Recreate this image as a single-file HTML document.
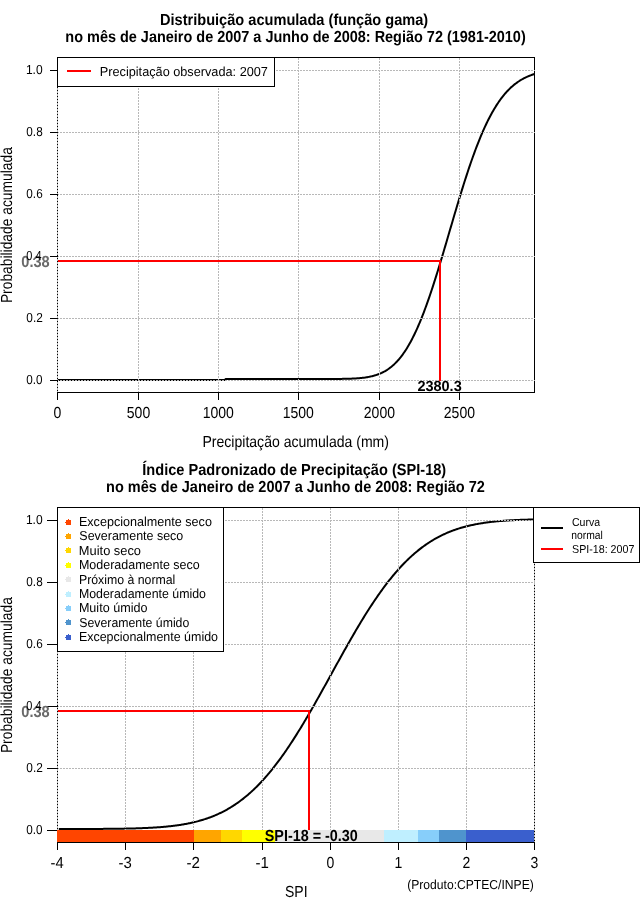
<!DOCTYPE html>
<html><head><meta charset="utf-8"><title>SPI</title>
<style>
html,body{margin:0;padding:0;background:#fff;}
body{width:640px;height:900px;overflow:hidden;}
svg{display:block;font-family:'Liberation Sans', sans-serif;will-change:transform;text-rendering:geometricPrecision;}
</style></head><body>
<svg width="640" height="900" viewBox="0 0 640 900">
<rect width="640" height="900" fill="#fff"/>
<text transform="translate(159.95,25) scale(0.9115,1)" font-size="16" font-weight="bold">Distribuição acumulada (função gama)</text>
<text transform="translate(65.36,42) scale(0.9034,1)" font-size="16" font-weight="bold">no mês de Janeiro de 2007 a Junho de 2008: Região 72 (1981-2010)</text>
<rect x="57.5" y="57.5" width="477" height="335" fill="none" stroke="#000" stroke-width="1" shape-rendering="crispEdges"/>
<path d="M57.50,380.00 L58.30,380.00 L59.09,380.00 L59.89,380.00 L60.69,380.00 L61.48,380.00 L62.28,380.00 L63.07,380.00 L63.87,380.00 L64.67,380.00 L65.46,380.00 L66.26,380.00 L67.06,380.00 L67.85,380.00 L68.65,380.00 L69.44,380.00 L70.24,380.00 L71.04,380.00 L71.83,380.00 L72.63,380.00 L73.43,380.00 L74.22,380.00 L75.02,380.00 L75.82,380.00 L76.61,380.00 L77.41,380.00 L78.20,380.00 L79.00,380.00 L79.80,380.00 L80.59,380.00 L81.39,380.00 L82.19,380.00 L82.98,380.00 L83.78,380.00 L84.58,380.00 L85.37,380.00 L86.17,380.00 L86.96,380.00 L87.76,380.00 L88.56,380.00 L89.35,380.00 L90.15,380.00 L90.95,380.00 L91.74,380.00 L92.54,380.00 L93.33,380.00 L94.13,380.00 L94.93,380.00 L95.72,380.00 L96.52,380.00 L97.32,380.00 L98.11,380.00 L98.91,380.00 L99.71,380.00 L100.50,380.00 L101.30,380.00 L102.09,380.00 L102.89,380.00 L103.69,380.00 L104.48,380.00 L105.28,380.00 L106.08,380.00 L106.87,380.00 L107.67,380.00 L108.46,380.00 L109.26,380.00 L110.06,380.00 L110.85,380.00 L111.65,380.00 L112.45,380.00 L113.24,380.00 L114.04,380.00 L114.84,380.00 L115.63,380.00 L116.43,380.00 L117.22,380.00 L118.02,380.00 L118.82,380.00 L119.61,380.00 L120.41,380.00 L121.21,380.00 L122.00,380.00 L122.80,380.00 L123.60,380.00 L124.39,380.00 L125.19,380.00 L125.98,380.00 L126.78,380.00 L127.58,380.00 L128.37,380.00 L129.17,380.00 L129.97,380.00 L130.76,380.00 L131.56,380.00 L132.35,380.00 L133.15,380.00 L133.95,380.00 L134.74,380.00 L135.54,380.00 L136.34,380.00 L137.13,380.00 L137.93,380.00 L138.73,380.00 L139.52,380.00 L140.32,380.00 L141.11,380.00 L141.91,380.00 L142.71,380.00 L143.50,380.00 L144.30,380.00 L145.10,380.00 L145.89,380.00 L146.69,380.00 L147.48,380.00 L148.28,380.00 L149.08,380.00 L149.87,380.00 L150.67,380.00 L151.47,380.00 L152.26,380.00 L153.06,380.00 L153.86,380.00 L154.65,380.00 L155.45,380.00 L156.24,380.00 L157.04,380.00 L157.84,380.00 L158.63,380.00 L159.43,380.00 L160.23,380.00 L161.02,380.00 L161.82,380.00 L162.62,380.00 L163.41,380.00 L164.21,380.00 L165.00,380.00 L165.80,380.00 L166.60,380.00 L167.39,380.00 L168.19,380.00 L168.99,380.00 L169.78,380.00 L170.58,380.00 L171.37,380.00 L172.17,380.00 L172.97,380.00 L173.76,380.00 L174.56,380.00 L175.36,380.00 L176.15,380.00 L176.95,380.00 L177.75,380.00 L178.54,380.00 L179.34,380.00 L180.13,380.00 L180.93,380.00 L181.73,380.00 L182.52,380.00 L183.32,380.00 L184.12,380.00 L184.91,380.00 L185.71,380.00 L186.51,380.00 L187.30,380.00 L188.10,380.00 L188.89,380.00 L189.69,380.00 L190.49,380.00 L191.28,380.00 L192.08,380.00 L192.88,380.00 L193.67,380.00 L194.47,380.00 L195.26,380.00 L196.06,380.00 L196.86,380.00 L197.65,380.00 L198.45,380.00 L199.25,380.00 L200.04,380.00 L200.84,380.00 L201.64,380.00 L202.43,380.00 L203.23,380.00 L204.02,380.00 L204.82,380.00 L205.62,380.00 L206.41,380.00 L207.21,380.00 L208.01,380.00 L208.80,380.00 L209.60,380.00 L210.39,380.00 L211.19,380.00 L211.99,380.00 L212.78,380.00 L213.58,380.00 L214.38,380.00 L215.17,380.00 L215.97,380.00 L216.77,380.00 L217.56,380.00 L218.36,380.00 L219.15,380.00 L219.95,380.00 L220.75,380.00 L221.54,380.00 L222.34,380.00 L223.14,380.00 L223.93,380.00 L224.73,380.00 L225.53,379.00 L226.32,379.00 L227.12,379.00 L227.91,379.00 L228.71,379.00 L229.51,379.00 L230.30,379.00 L231.10,379.00 L231.90,379.00 L232.69,379.00 L233.49,379.00 L234.28,379.00 L235.08,379.00 L235.88,379.00 L236.67,379.00 L237.47,379.00 L238.27,379.00 L239.06,379.00 L239.86,379.00 L240.66,379.00 L241.45,379.00 L242.25,379.00 L243.04,379.00 L243.84,379.00 L244.64,379.00 L245.43,379.00 L246.23,379.00 L247.03,379.00 L247.82,379.00 L248.62,379.00 L249.41,379.00 L250.21,379.00 L251.01,379.00 L251.80,379.00 L252.60,379.00 L253.40,379.00 L254.19,379.00 L254.99,379.00 L255.79,379.00 L256.58,379.00 L257.38,379.00 L258.17,379.00 L258.97,379.00 L259.77,379.00 L260.56,379.00 L261.36,379.00 L262.16,379.00 L262.95,379.00 L263.75,379.00 L264.55,379.00 L265.34,379.00 L266.14,379.00 L266.93,379.00 L267.73,379.00 L268.53,379.00 L269.32,379.00 L270.12,379.00 L270.92,379.00 L271.71,379.00 L272.51,379.00 L273.30,379.00 L274.10,379.00 L274.90,379.00 L275.69,379.00 L276.49,379.00 L277.29,379.00 L278.08,379.00 L278.88,379.00 L279.68,379.00 L280.47,379.00 L281.27,379.00 L282.06,379.00 L282.86,379.00 L283.66,379.00 L284.45,379.00 L285.25,379.00 L286.05,379.00 L286.84,379.00 L287.64,379.00 L288.43,379.00 L289.23,379.00 L290.03,379.00 L290.82,379.00 L291.62,379.00 L292.42,379.00 L293.21,379.00 L294.01,379.00 L294.81,379.00 L295.60,379.00 L296.40,379.00 L297.19,379.00 L297.99,379.00 L298.79,379.00 L299.58,379.00 L300.38,379.00 L301.18,379.00 L301.97,379.00 L302.77,379.00 L303.57,379.00 L304.36,379.00 L305.16,379.00 L305.95,379.00 L306.75,379.00 L307.55,379.00 L308.34,379.00 L309.14,379.00 L309.94,379.00 L310.73,379.00 L311.53,379.00 L312.32,379.00 L313.12,379.00 L313.92,379.00 L314.71,379.00 L315.51,379.00 L316.31,379.00 L317.10,379.00 L317.90,379.00 L318.70,379.00 L319.49,378.99 L320.29,378.99 L321.08,378.99 L321.88,378.99 L322.68,378.99 L323.47,378.99 L324.27,378.99 L325.07,378.99 L325.86,378.99 L326.66,378.98 L327.45,378.98 L328.25,378.98 L329.05,378.98 L329.84,378.98 L330.64,378.97 L331.44,378.97 L332.23,378.97 L333.03,378.96 L333.83,378.96 L334.62,378.95 L335.42,378.95 L336.21,378.94 L337.01,378.94 L337.81,378.93 L338.60,378.92 L339.40,378.91 L340.20,378.90 L340.99,378.89 L341.79,378.88 L342.59,378.87 L343.38,378.86 L344.18,378.84 L344.97,378.83 L345.77,378.81 L346.57,378.79 L347.36,378.77 L348.16,378.75 L348.96,378.72 L349.75,378.70 L350.55,378.67 L351.34,378.64 L352.14,378.60 L352.94,378.57 L353.73,378.53 L354.53,378.49 L355.33,378.44 L356.12,378.39 L356.92,378.34 L357.72,378.28 L358.51,378.22 L359.31,378.15 L360.10,378.08 L360.90,378.01 L361.70,377.93 L362.49,377.84 L363.29,377.74 L364.09,377.64 L364.88,377.54 L365.68,377.42 L366.47,377.30 L367.27,377.17 L368.07,377.03 L368.86,376.89 L369.66,376.73 L370.46,376.56 L371.25,376.39 L372.05,376.20 L372.85,376.00 L373.64,375.79 L374.44,375.57 L375.23,375.33 L376.03,375.08 L376.83,374.82 L377.62,374.54 L378.42,374.24 L379.22,373.93 L380.01,373.61 L380.81,373.26 L381.61,372.90 L382.40,372.52 L383.20,372.12 L383.99,371.71 L384.79,371.27 L385.59,370.81 L386.38,370.32 L387.18,369.82 L387.98,369.29 L388.77,368.74 L389.57,368.16 L390.36,367.56 L391.16,366.93 L391.96,366.28 L392.75,365.59 L393.55,364.88 L394.35,364.14 L395.14,363.38 L395.94,362.58 L396.74,361.75 L397.53,360.89 L398.33,359.99 L399.12,359.07 L399.92,358.11 L400.72,357.12 L401.51,356.09 L402.31,355.03 L403.11,353.94 L403.90,352.80 L404.70,351.64 L405.49,350.43 L406.29,349.19 L407.09,347.91 L407.88,346.60 L408.68,345.25 L409.48,343.85 L410.27,342.43 L411.07,340.96 L411.87,339.45 L412.66,337.91 L413.46,336.32 L414.25,334.70 L415.05,333.04 L415.85,331.34 L416.64,329.60 L417.44,327.83 L418.24,326.01 L419.03,324.16 L419.83,322.27 L420.63,320.34 L421.42,318.38 L422.22,316.38 L423.01,314.34 L423.81,312.27 L424.61,310.16 L425.40,308.02 L426.20,305.85 L427.00,303.64 L427.79,301.40 L428.59,299.13 L429.38,296.83 L430.18,294.49 L430.98,292.13 L431.77,289.74 L432.57,287.33 L433.37,284.89 L434.16,282.42 L434.96,279.93 L435.76,277.41 L436.55,274.88 L437.35,272.32 L438.14,269.74 L438.94,267.15 L439.74,264.53 L440.53,261.91 L441.33,259.26 L442.13,256.61 L442.92,253.94 L443.72,251.26 L444.52,248.57 L445.31,245.87 L446.11,243.17 L446.90,240.46 L447.70,237.75 L448.50,235.03 L449.29,232.31 L450.09,229.59 L450.89,226.87 L451.68,224.16 L452.48,221.44 L453.27,218.74 L454.07,216.04 L454.87,213.34 L455.66,210.66 L456.46,207.98 L457.26,205.32 L458.05,202.67 L458.85,200.03 L459.65,197.40 L460.44,194.80 L461.24,192.20 L462.03,189.63 L462.83,187.08 L463.63,184.54 L464.42,182.03 L465.22,179.54 L466.02,177.07 L466.81,174.62 L467.61,172.20 L468.40,169.81 L469.20,167.44 L470.00,165.09 L470.79,162.78 L471.59,160.49 L472.39,158.24 L473.18,156.01 L473.98,153.81 L474.78,151.64 L475.57,149.51 L476.37,147.40 L477.16,145.33 L477.96,143.29 L478.76,141.28 L479.55,139.30 L480.35,137.36 L481.15,135.45 L481.94,133.58 L482.74,131.74 L483.54,129.93 L484.33,128.16 L485.13,126.42 L485.92,124.71 L486.72,123.04 L487.52,121.41 L488.31,119.81 L489.11,118.24 L489.91,116.70 L490.70,115.20 L491.50,113.74 L492.29,112.30 L493.09,110.90 L493.89,109.54 L494.68,108.20 L495.48,106.90 L496.28,105.63 L497.07,104.39 L497.87,103.18 L498.67,102.01 L499.46,100.87 L500.26,99.75 L501.05,98.67 L501.85,97.61 L502.65,96.59 L503.44,95.59 L504.24,94.62 L505.04,93.68 L505.83,92.77 L506.63,91.88 L507.42,91.02 L508.22,90.19 L509.02,89.38 L509.81,88.60 L510.61,87.84 L511.41,87.11 L512.20,86.40 L513.00,85.71 L513.80,85.04 L514.59,84.40 L515.39,83.78 L516.18,83.18 L516.98,82.59 L517.78,82.03 L518.57,81.49 L519.37,80.97 L520.17,80.47 L520.96,79.98 L521.76,79.51 L522.56,79.06 L523.35,78.63 L524.15,78.21 L524.94,77.81 L525.74,77.42 L526.54,77.05 L527.33,76.69 L528.13,76.34 L528.93,76.01 L529.72,75.69 L530.52,75.39 L531.31,75.09 L532.11,74.81 L532.91,74.54 L533.70,74.28 L534.50,74.03" fill="none" stroke="#000" stroke-width="2" stroke-linejoin="round"/>
<g stroke="#b8b8b8" stroke-width="1" stroke-dasharray="2 1" shape-rendering="crispEdges">
<line x1="57.5" y1="57.5" x2="57.5" y2="392.5" />
<line x1="138.5" y1="57.5" x2="138.5" y2="392.5" />
<line x1="218.5" y1="57.5" x2="218.5" y2="392.5" />
<line x1="298.5" y1="57.5" x2="298.5" y2="392.5" />
<line x1="379.5" y1="57.5" x2="379.5" y2="392.5" />
<line x1="459.5" y1="57.5" x2="459.5" y2="392.5" />
<line x1="57" y1="380.5" x2="534.5" y2="380.5" />
<line x1="57" y1="318.5" x2="534.5" y2="318.5" />
<line x1="57" y1="256.5" x2="534.5" y2="256.5" />
<line x1="57" y1="194.5" x2="534.5" y2="194.5" />
<line x1="57" y1="132.5" x2="534.5" y2="132.5" />
<line x1="57" y1="70.5" x2="534.5" y2="70.5" />
</g>
<g stroke="#000" stroke-width="1" shape-rendering="crispEdges">
<line x1="57.5" y1="392" x2="57.5" y2="400" />
<line x1="138.5" y1="392" x2="138.5" y2="400" />
<line x1="218.5" y1="392" x2="218.5" y2="400" />
<line x1="298.5" y1="392" x2="298.5" y2="400" />
<line x1="379.5" y1="392" x2="379.5" y2="400" />
<line x1="459.5" y1="392" x2="459.5" y2="400" />
<line x1="50" y1="380.5" x2="58" y2="380.5" />
<line x1="50" y1="318.5" x2="58" y2="318.5" />
<line x1="50" y1="256.5" x2="58" y2="256.5" />
<line x1="50" y1="194.5" x2="58" y2="194.5" />
<line x1="50" y1="132.5" x2="58" y2="132.5" />
<line x1="50" y1="70.5" x2="58" y2="70.5" />
</g>
<text transform="translate(21.32,267) scale(0.9100,1)" font-size="16" font-weight="bold" fill="#6a6a6a">0.38</text>
<text transform="translate(53.58,418) scale(0.8750,1)" font-size="16">0</text>
<text transform="translate(126.81,418) scale(0.8750,1)" font-size="16">500</text>
<text transform="translate(202.64,418) scale(0.8750,1)" font-size="16">1000</text>
<text transform="translate(282.64,418) scale(0.8750,1)" font-size="16">1500</text>
<text transform="translate(363.82,418) scale(0.8750,1)" font-size="16">2000</text>
<text transform="translate(443.82,418) scale(0.8750,1)" font-size="16">2500</text>
<text transform="translate(26.33,384) scale(0.9008,1)" font-size="13">0.0</text>
<text transform="translate(26.33,322) scale(0.9112,1)" font-size="13">0.2</text>
<text transform="translate(26.36,260) scale(0.8450,1)" font-size="13">0.4</text>
<text transform="translate(26.33,198) scale(0.9043,1)" font-size="13">0.6</text>
<text transform="translate(26.33,136) scale(0.9043,1)" font-size="13">0.8</text>
<text transform="translate(25.90,74) scale(0.9255,1)" font-size="13">1.0</text>
<g stroke="#ff0000" stroke-width="2" shape-rendering="crispEdges">
<line x1="58" y1="261" x2="441" y2="261" />
<line x1="440" y1="260" x2="440" y2="381" />
</g>
<text transform="translate(417.39,391) scale(0.9863,1)" font-size="14.7" font-weight="bold">2380.3</text>
<rect x="57.5" y="57.5" width="217" height="29" fill="#fff" stroke="#000" stroke-width="1" shape-rendering="crispEdges"/>
<line x1="67" y1="71" x2="91" y2="71" stroke="#ff0000" stroke-width="2" shape-rendering="crispEdges"/>
<text transform="translate(99.78,76) scale(0.9774,1)" font-size="13">Precipitação observada: 2007</text>
<text transform="translate(202.48,447) scale(0.8776,1)" font-size="16">Precipitação acumulada (mm)</text>
<text transform="translate(11.7,303.11) rotate(-90) scale(0.8635,1)" font-size="16">Probabilidade acumulada</text>
<text transform="translate(142.27,475) scale(0.9116,1)" font-size="16" font-weight="bold">Índice Padronizado de Precipitação (SPI-18)</text>
<text transform="translate(106.06,492) scale(0.9063,1)" font-size="16" font-weight="bold">no mês de Janeiro de 2007 a Junho de 2008: Região 72</text>
<rect x="57.5" y="507.5" width="477" height="335" fill="none" stroke="#000" stroke-width="1" shape-rendering="crispEdges"/>
<path d="M58.80,828.99 L59.76,828.99 L60.71,828.99 L61.67,828.99 L62.62,828.99 L63.58,828.99 L64.54,828.99 L65.49,828.99 L66.45,828.98 L67.40,828.98 L68.36,828.98 L69.32,828.98 L70.27,828.98 L71.23,828.98 L72.18,828.98 L73.14,828.98 L74.09,828.98 L75.05,828.97 L76.01,828.97 L76.96,828.97 L77.92,828.97 L78.87,828.97 L79.83,828.97 L80.79,828.96 L81.74,828.96 L82.70,828.96 L83.65,828.96 L84.61,828.95 L85.57,828.95 L86.52,828.95 L87.48,828.95 L88.43,828.94 L89.39,828.94 L90.35,828.94 L91.30,828.93 L92.26,828.93 L93.21,828.93 L94.17,828.92 L95.12,828.92 L96.08,828.91 L97.04,828.91 L97.99,828.90 L98.95,828.90 L99.90,828.89 L100.86,828.89 L101.82,828.88 L102.77,828.88 L103.73,828.87 L104.68,828.86 L105.64,828.86 L106.60,828.85 L107.55,828.84 L108.51,828.83 L109.46,828.83 L110.42,828.82 L111.38,828.81 L112.33,828.80 L113.29,828.79 L114.24,828.78 L115.20,828.77 L116.15,828.75 L117.11,828.74 L118.07,828.73 L119.02,828.72 L119.98,828.70 L120.93,828.69 L121.89,828.67 L122.85,828.66 L123.80,828.64 L124.76,828.62 L125.71,828.61 L126.67,828.59 L127.63,828.57 L128.58,828.55 L129.54,828.53 L130.49,828.50 L131.45,828.48 L132.41,828.46 L133.36,828.43 L134.32,828.41 L135.27,828.38 L136.23,828.35 L137.18,828.32 L138.14,828.29 L139.10,828.26 L140.05,828.23 L141.01,828.19 L141.96,828.16 L142.92,828.12 L143.88,828.08 L144.83,828.04 L145.79,828.00 L146.74,827.96 L147.70,827.91 L148.66,827.86 L149.61,827.81 L150.57,827.76 L151.52,827.71 L152.48,827.66 L153.44,827.60 L154.39,827.54 L155.35,827.48 L156.30,827.42 L157.26,827.35 L158.21,827.29 L159.17,827.22 L160.13,827.14 L161.08,827.07 L162.04,826.99 L162.99,826.91 L163.95,826.83 L164.91,826.74 L165.86,826.65 L166.82,826.56 L167.77,826.46 L168.73,826.37 L169.69,826.26 L170.64,826.16 L171.60,826.05 L172.55,825.94 L173.51,825.82 L174.47,825.70 L175.42,825.57 L176.38,825.45 L177.33,825.31 L178.29,825.18 L179.24,825.03 L180.20,824.89 L181.16,824.74 L182.11,824.58 L183.07,824.42 L184.02,824.26 L184.98,824.09 L185.94,823.91 L186.89,823.73 L187.85,823.55 L188.80,823.35 L189.76,823.16 L190.72,822.95 L191.67,822.75 L192.63,822.53 L193.58,822.31 L194.54,822.08 L195.50,821.85 L196.45,821.61 L197.41,821.36 L198.36,821.10 L199.32,820.84 L200.27,820.57 L201.23,820.30 L202.19,820.01 L203.14,819.72 L204.10,819.42 L205.05,819.11 L206.01,818.80 L206.97,818.48 L207.92,818.14 L208.88,817.80 L209.83,817.45 L210.79,817.10 L211.75,816.73 L212.70,816.35 L213.66,815.97 L214.61,815.57 L215.57,815.17 L216.53,814.75 L217.48,814.33 L218.44,813.89 L219.39,813.45 L220.35,812.99 L221.31,812.53 L222.26,812.05 L223.22,811.57 L224.17,811.07 L225.13,810.56 L226.08,810.04 L227.04,809.51 L228.00,808.96 L228.95,808.41 L229.91,807.84 L230.86,807.26 L231.82,806.67 L232.78,806.07 L233.73,805.46 L234.69,804.83 L235.64,804.19 L236.60,803.53 L237.56,802.87 L238.51,802.19 L239.47,801.50 L240.42,800.79 L241.38,800.07 L242.34,799.34 L243.29,798.60 L244.25,797.84 L245.20,797.06 L246.16,796.28 L247.11,795.48 L248.07,794.66 L249.03,793.83 L249.98,792.99 L250.94,792.13 L251.89,791.26 L252.85,790.37 L253.81,789.47 L254.76,788.56 L255.72,787.63 L256.67,786.69 L257.63,785.73 L258.59,784.75 L259.54,783.77 L260.50,782.76 L261.45,781.75 L262.41,780.71 L263.37,779.67 L264.32,778.60 L265.28,777.53 L266.23,776.44 L267.19,775.33 L268.14,774.21 L269.10,773.07 L270.06,771.92 L271.01,770.76 L271.97,769.58 L272.92,768.39 L273.88,767.18 L274.84,765.96 L275.79,764.72 L276.75,763.47 L277.70,762.20 L278.66,760.92 L279.62,759.63 L280.57,758.32 L281.53,757.00 L282.48,755.67 L283.44,754.32 L284.40,752.96 L285.35,751.58 L286.31,750.20 L287.26,748.80 L288.22,747.38 L289.17,745.96 L290.13,744.52 L291.09,743.07 L292.04,741.61 L293.00,740.13 L293.95,738.64 L294.91,737.15 L295.87,735.64 L296.82,734.12 L297.78,732.59 L298.73,731.04 L299.69,729.49 L300.65,727.93 L301.60,726.36 L302.56,724.78 L303.51,723.19 L304.47,721.59 L305.43,719.98 L306.38,718.36 L307.34,716.73 L308.29,715.10 L309.25,713.46 L310.20,711.81 L311.16,710.15 L312.12,708.49 L313.07,706.82 L314.03,705.14 L314.98,703.46 L315.94,701.77 L316.90,700.07 L317.85,698.38 L318.81,696.67 L319.76,694.96 L320.72,693.25 L321.68,691.54 L322.63,689.82 L323.59,688.10 L324.54,686.37 L325.50,684.64 L326.46,682.91 L327.41,681.18 L328.37,679.45 L329.32,677.72 L330.28,675.98 L331.23,674.25 L332.19,672.51 L333.15,670.78 L334.10,669.04 L335.06,667.31 L336.01,665.58 L336.97,663.85 L337.93,662.12 L338.88,660.40 L339.84,658.67 L340.79,656.95 L341.75,655.24 L342.71,653.52 L343.66,651.81 L344.62,650.11 L345.57,648.41 L346.53,646.71 L347.49,645.03 L348.44,643.34 L349.40,641.66 L350.35,639.99 L351.31,638.33 L352.26,636.67 L353.22,635.01 L354.18,633.37 L355.13,631.73 L356.09,630.11 L357.04,628.49 L358.00,626.87 L358.96,625.27 L359.91,623.68 L360.87,622.09 L361.82,620.52 L362.78,618.95 L363.74,617.40 L364.69,615.85 L365.65,614.32 L366.60,612.80 L367.56,611.28 L368.52,609.78 L369.47,608.29 L370.43,606.81 L371.38,605.35 L372.34,603.89 L373.29,602.45 L374.25,601.02 L375.21,599.61 L376.16,598.20 L377.12,596.81 L378.07,595.43 L379.03,594.07 L379.99,592.72 L380.94,591.38 L381.90,590.05 L382.85,588.74 L383.81,587.44 L384.77,586.16 L385.72,584.89 L386.68,583.64 L387.63,582.40 L388.59,581.17 L389.55,579.96 L390.50,578.76 L391.46,577.58 L392.41,576.41 L393.37,575.25 L394.33,574.11 L395.28,572.99 L396.24,571.88 L397.19,570.78 L398.15,569.70 L399.10,568.64 L400.06,567.58 L401.02,566.55 L401.97,565.53 L402.93,564.52 L403.88,563.53 L404.84,562.55 L405.80,561.59 L406.75,560.64 L407.71,559.70 L408.66,558.79 L409.62,557.88 L410.58,556.99 L411.53,556.12 L412.49,555.25 L413.44,554.41 L414.40,553.57 L415.36,552.76 L416.31,551.95 L417.27,551.16 L418.22,550.38 L419.18,549.62 L420.13,548.87 L421.09,548.13 L422.05,547.41 L423.00,546.70 L423.96,546.01 L424.91,545.32 L425.87,544.65 L426.83,544.00 L427.78,543.35 L428.74,542.72 L429.69,542.10 L430.65,541.50 L431.61,540.90 L432.56,540.32 L433.52,539.75 L434.47,539.19 L435.43,538.65 L436.39,538.11 L437.34,537.59 L438.30,537.08 L439.25,536.57 L440.21,536.08 L441.16,535.61 L442.12,535.14 L443.08,534.68 L444.03,534.23 L444.99,533.79 L445.94,533.37 L446.90,532.95 L447.86,532.54 L448.81,532.15 L449.77,531.76 L450.72,531.38 L451.68,531.01 L452.64,530.65 L453.59,530.30 L454.55,529.95 L455.50,529.62 L456.46,529.29 L457.42,528.98 L458.37,528.67 L459.33,528.36 L460.28,528.07 L461.24,527.78 L462.19,527.51 L463.15,527.24 L464.11,526.97 L465.06,526.71 L466.02,526.46 L466.97,526.22 L467.93,525.99 L468.89,525.76 L469.84,525.53 L470.80,525.32 L471.75,525.10 L472.71,524.90 L473.67,524.70 L474.62,524.51 L475.58,524.32 L476.53,524.14 L477.49,523.96 L478.45,523.79 L479.40,523.62 L480.36,523.46 L481.31,523.31 L482.27,523.15 L483.22,523.01 L484.18,522.86 L485.14,522.73 L486.09,522.59 L487.05,522.46 L488.00,522.34 L488.96,522.22 L489.92,522.10 L490.87,521.98 L491.83,521.87 L492.78,521.77 L493.74,521.66 L494.70,521.56 L495.65,521.47 L496.61,521.37 L497.56,521.28 L498.52,521.20 L499.48,521.11 L500.43,521.03 L501.39,520.95 L502.34,520.88 L503.30,520.80 L504.25,520.73 L505.21,520.66 L506.17,520.60 L507.12,520.54 L508.08,520.47 L509.03,520.41 L509.99,520.36 L510.95,520.30 L511.90,520.25 L512.86,520.20 L513.81,520.15 L514.77,520.10 L515.73,520.06 L516.68,520.01 L517.64,519.97 L518.59,519.93 L519.55,519.89 L520.51,519.85 L521.46,519.82 L522.42,519.78 L523.37,519.75 L524.33,519.72 L525.28,519.69 L526.24,519.66 L527.20,519.63 L528.15,519.60 L529.11,519.58 L530.06,519.55 L531.02,519.53 L531.98,519.50 L532.93,519.48 L533.89,519.46 L534.84,519.44 L535.80,519.42" fill="none" stroke="#000" stroke-width="2" stroke-linejoin="round"/>
<g stroke="#b8b8b8" stroke-width="1" stroke-dasharray="2 1" shape-rendering="crispEdges">
<line x1="57.5" y1="507.5" x2="57.5" y2="842.5" />
<line x1="125.5" y1="507.5" x2="125.5" y2="842.5" />
<line x1="193.5" y1="507.5" x2="193.5" y2="842.5" />
<line x1="262.5" y1="507.5" x2="262.5" y2="842.5" />
<line x1="330.5" y1="507.5" x2="330.5" y2="842.5" />
<line x1="398.5" y1="507.5" x2="398.5" y2="842.5" />
<line x1="466.5" y1="507.5" x2="466.5" y2="842.5" />
<line x1="534.5" y1="507.5" x2="534.5" y2="842.5" />
<line x1="57" y1="830.5" x2="534.5" y2="830.5" />
<line x1="57" y1="768.5" x2="534.5" y2="768.5" />
<line x1="57" y1="706.5" x2="534.5" y2="706.5" />
<line x1="57" y1="644.5" x2="534.5" y2="644.5" />
<line x1="57" y1="582.5" x2="534.5" y2="582.5" />
<line x1="57" y1="520.5" x2="534.5" y2="520.5" />
</g>
<g stroke="#000" stroke-width="1" shape-rendering="crispEdges">
<line x1="57.5" y1="842" x2="57.5" y2="850" />
<line x1="125.5" y1="842" x2="125.5" y2="850" />
<line x1="193.5" y1="842" x2="193.5" y2="850" />
<line x1="262.5" y1="842" x2="262.5" y2="850" />
<line x1="330.5" y1="842" x2="330.5" y2="850" />
<line x1="398.5" y1="842" x2="398.5" y2="850" />
<line x1="466.5" y1="842" x2="466.5" y2="850" />
<line x1="534.5" y1="842" x2="534.5" y2="850" />
<line x1="47" y1="830.5" x2="58" y2="830.5" />
<line x1="47" y1="768.5" x2="58" y2="768.5" />
<line x1="47" y1="706.5" x2="58" y2="706.5" />
<line x1="47" y1="644.5" x2="58" y2="644.5" />
<line x1="47" y1="582.5" x2="58" y2="582.5" />
<line x1="47" y1="520.5" x2="58" y2="520.5" />
</g>
<text transform="translate(21.32,717) scale(0.9100,1)" font-size="16" font-weight="bold" fill="#6a6a6a">0.38</text>
<text transform="translate(50.59,868) scale(0.9202,1)" font-size="16">-4</text>
<text transform="translate(118.58,868) scale(0.9317,1)" font-size="16">-3</text>
<text transform="translate(186.57,868) scale(0.9434,1)" font-size="16">-2</text>
<text transform="translate(255.57,868) scale(0.9375,1)" font-size="16">-1</text>
<text transform="translate(326.58,868) scale(0.8750,1)" font-size="16">0</text>
<text transform="translate(394.40,868) scale(0.8750,1)" font-size="16">1</text>
<text transform="translate(462.62,868) scale(0.8750,1)" font-size="16">2</text>
<text transform="translate(530.61,868) scale(0.8750,1)" font-size="16">3</text>
<text transform="translate(26.33,834) scale(0.9008,1)" font-size="13">0.0</text>
<text transform="translate(26.33,772) scale(0.9112,1)" font-size="13">0.2</text>
<text transform="translate(26.36,710) scale(0.8450,1)" font-size="13">0.4</text>
<text transform="translate(26.33,648) scale(0.9043,1)" font-size="13">0.6</text>
<text transform="translate(26.33,586) scale(0.9043,1)" font-size="13">0.8</text>
<text transform="translate(25.90,524) scale(0.9255,1)" font-size="13">1.0</text>
<g shape-rendering="crispEdges">
<rect x="57" y="830" width="137" height="12" fill="#ff4500"/>
<rect x="194" y="830" width="27" height="12" fill="#ffa500"/>
<rect x="221" y="830" width="21" height="12" fill="#ffd700"/>
<rect x="242" y="830" width="33" height="12" fill="#ffff00"/>
<rect x="275" y="830" width="109" height="12" fill="#e8e8e8"/>
<rect x="384" y="830" width="34" height="12" fill="#bfefff"/>
<rect x="418" y="830" width="21" height="12" fill="#87cefa"/>
<rect x="439" y="830" width="27" height="12" fill="#4f94cd"/>
<rect x="466" y="830" width="68" height="12" fill="#3a5fcd"/>
</g>
<line x1="57.5" y1="842.5" x2="534.5" y2="842.5" stroke="#000" stroke-width="1" shape-rendering="crispEdges"/>
<g stroke="#ff0000" stroke-width="2" shape-rendering="crispEdges">
<line x1="58" y1="711" x2="310" y2="711" />
<line x1="309" y1="710" x2="309" y2="830" />
</g>
<text transform="translate(264.77,841) scale(0.8977,1)" font-size="16" font-weight="bold">SPI-18 = -0.30</text>
<rect x="57.5" y="507.5" width="166" height="144" fill="#fff" stroke="#000" stroke-width="1" shape-rendering="crispEdges"/>
<path d="M66,520h2v-1h1v1h2v5h-5v-2h-1v-1h1z" fill="#ff4500" shape-rendering="crispEdges"/>
<text transform="translate(78.89,526) scale(0.9689,1)" font-size="13">Excepcionalmente seco</text>
<path d="M66,534h2v-1h1v1h2v5h-5v-2h-1v-1h1z" fill="#ffa500" shape-rendering="crispEdges"/>
<text transform="translate(79.34,540) scale(0.9585,1)" font-size="13">Severamente seco</text>
<path d="M66,548h2v-1h1v1h2v5h-5v-2h-1v-1h1z" fill="#ffd700" shape-rendering="crispEdges"/>
<text transform="translate(78.87,554.5) scale(0.9887,1)" font-size="13">Muito seco</text>
<path d="M66,563h2v-1h1v1h2v5h-5v-2h-1v-1h1z" fill="#ffff00" shape-rendering="crispEdges"/>
<text transform="translate(78.90,569) scale(0.9609,1)" font-size="13">Moderadamente seco</text>
<path d="M66,577h2v-1h1v1h2v5h-5v-2h-1v-1h1z" fill="#e8e8e8" shape-rendering="crispEdges"/>
<text transform="translate(78.92,583.5) scale(0.9463,1)" font-size="13">Próximo à normal</text>
<path d="M66,592h2v-1h1v1h2v5h-5v-2h-1v-1h1z" fill="#bfefff" shape-rendering="crispEdges"/>
<text transform="translate(78.91,598) scale(0.9505,1)" font-size="13">Moderadamente úmido</text>
<path d="M66,606h2v-1h1v1h2v5h-5v-2h-1v-1h1z" fill="#87cefa" shape-rendering="crispEdges"/>
<text transform="translate(78.89,612) scale(0.9679,1)" font-size="13">Muito úmido</text>
<path d="M66,620h2v-1h1v1h2v5h-5v-2h-1v-1h1z" fill="#4f94cd" shape-rendering="crispEdges"/>
<text transform="translate(79.35,627) scale(0.9449,1)" font-size="13">Severamente úmido</text>
<path d="M66,635h2v-1h1v1h2v5h-5v-2h-1v-1h1z" fill="#3a5fcd" shape-rendering="crispEdges"/>
<text transform="translate(78.90,641) scale(0.9579,1)" font-size="13">Excepcionalmente úmido</text>
<rect x="533.5" y="507.5" width="106" height="55" fill="#fff" stroke="#000" stroke-width="1" shape-rendering="crispEdges"/>
<line x1="541" y1="528" x2="563" y2="528" stroke="#000" stroke-width="2" shape-rendering="crispEdges"/>
<line x1="541" y1="549" x2="563" y2="549" stroke="#ff0000" stroke-width="2" shape-rendering="crispEdges"/>
<text transform="translate(571.97,526) scale(0.9178,1)" font-size="11.5">Curva</text>
<text transform="translate(571.23,539) scale(0.8978,1)" font-size="11.5">normal</text>
<text transform="translate(572.02,553) scale(0.9286,1)" font-size="11.5">SPI-18: 2007</text>
<text transform="translate(284.97,897) scale(0.8771,1)" font-size="16">SPI</text>
<text transform="translate(407.17,889) scale(0.9320,1)" font-size="13">(Produto:CPTEC/INPE)</text>
<text transform="translate(11.7,753.11) rotate(-90) scale(0.8635,1)" font-size="16">Probabilidade acumulada</text>
</svg>
</body></html>
